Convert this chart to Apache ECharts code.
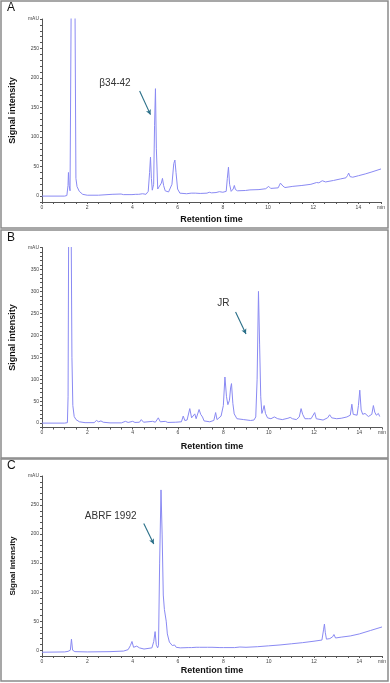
<!DOCTYPE html>
<html>
<head>
<meta charset="utf-8">
<script src="https://cdn.jsdelivr.net/npm/echarts@6/dist/echarts.min.js"></script>
<style>
  html, body { margin: 0; padding: 0; background: #fff; }
  #chart { width: 390px; height: 683px; }
</style>
</head>
<body>
<div id="chart"></div>
<script>
// 色谱数据 A（保留时间 min / 信号 mAU）
const timeA = [0, 1.0, 1.1, 1.15, 1.17, 1.2, 1.24, 1.26, 1.29, 1.33, 1.42, 1.46, 1.5, 1.55, 1.65, 1.8, 2.0, 2.5, 3.1, 3.5, 3.6, 3.85, 3.92, 3.98, 4.15, 4.21, 4.28, 4.45, 4.5, 4.6, 4.7, 4.76, 4.8, 4.84, 4.88, 4.94, 4.98, 5.02, 5.06, 5.12, 5.2, 5.28, 5.33, 5.38, 5.45, 5.6, 5.75, 5.83, 5.88, 5.93, 6.0, 6.1, 6.4, 6.6, 6.68, 6.78, 7.0, 7.3, 7.4, 7.5, 7.7, 7.85, 8.0, 8.15, 8.2, 8.25, 8.3, 8.37, 8.46, 8.51, 8.56, 8.65, 9.0, 9.2, 9.6, 9.9, 10.03, 10.12, 10.45, 10.55, 10.6, 10.66, 10.75, 11.1, 11.5, 11.9, 12.15, 12.25, 12.4, 12.55, 12.9, 13.2, 13.45, 13.52, 13.57, 13.63, 13.75, 14.0, 14.3, 14.6, 15.0]
const signalA = [0, 0, 1, 18, 40, 18, 9, 10, 320, 700, 700, 320, 30, 16, 8, 3, 1.5, 1.5, 3, 3.5, 2.5, 2.5, 5, 2.5, 3, 6, 3, 4, 5.5, 3, 8, 40, 66, 30, 10, 20, 120, 182, 80, 12, 10, 22, 30, 18, 9, 7, 20, 55, 61, 40, 12, 5, 4, 5, 8, 5, 4.5, 5, 6.5, 5.5, 6, 7.5, 6.5, 8, 30, 49, 20, 8, 12, 18, 11, 9, 9.5, 10.5, 11, 12.5, 16.5, 13, 14, 22, 25, 17, 14.5, 16.5, 18, 20, 23, 22.5, 26, 24, 26.5, 29, 31, 35, 39, 33, 32, 34.5, 37.5, 41, 46]

// 色谱数据 B
const timeB = [0, 1.0, 1.12, 1.15, 1.18, 1.28, 1.32, 1.36, 1.42, 1.5, 1.65, 1.9, 2.3, 2.4, 2.44, 2.5, 2.6, 2.7, 3.0, 3.5, 3.68, 3.8, 4.0, 4.1, 4.3, 4.38, 4.48, 4.88, 5.0, 5.13, 5.22, 5.44, 5.55, 5.9, 6.15, 6.23, 6.3, 6.4, 6.52, 6.6, 6.66, 6.74, 6.8, 6.86, 6.93, 7.0, 7.08, 7.15, 7.4, 7.58, 7.66, 7.72, 7.8, 7.9, 8.0, 8.07, 8.14, 8.2, 8.27, 8.32, 8.36, 8.42, 8.48, 8.6, 8.9, 9.2, 9.35, 9.43, 9.49, 9.55, 9.6, 9.65, 9.7, 9.75, 9.8, 9.86, 9.95, 10.1, 10.25, 10.4, 10.6, 10.85, 10.95, 11.05, 11.12, 11.22, 11.35, 11.43, 11.5, 11.6, 11.75, 11.8, 11.87, 11.95, 12.03, 12.1, 12.4, 12.6, 12.69, 12.78, 12.85, 13.0, 13.2, 13.45, 13.6, 13.67, 13.73, 13.8, 13.9, 13.96, 14.02, 14.08, 14.15, 14.25, 14.4, 14.55, 14.62, 14.68, 14.75, 14.84, 14.9]
const signalB = [0, 0, 1, 60, 500, 500, 150, 40, 15, 8, 3, 1, 1, 6, 10, 3, 5, 2, 0.5, 0.5, 4, 1.5, 4, 1.5, 2, 8, 2, 4, 2, 12, 3, 4, 1.5, 2, 3, 16, 6, 7, 33, 12, 14, 21, 10, 14, 31, 20, 14, 5, 3, 6, 24, 8, 8, 16, 40, 105, 60, 42, 52, 80, 90, 45, 21, 10, 8, 6, 7, 14, 100, 300, 180, 60, 22, 30, 40, 22, 12, 10, 14, 10, 8, 11, 13, 10, 13, 8, 14, 33, 20, 10, 10, 14, 10, 11, 24, 10, 7, 12, 19, 12, 14, 10, 11, 14, 18, 43, 20, 17, 18, 40, 75, 30, 20, 22, 15, 20, 40, 25, 18, 22, 15]

// 色谱数据 C
const timeC = [0, 1.0, 1.15, 1.25, 1.3, 1.35, 1.45, 2.0, 3.0, 3.6, 3.8, 3.9, 3.97, 4.04, 4.1, 4.18, 4.3, 4.5, 4.85, 4.93, 4.99, 5.04, 5.1, 5.14, 5.19, 5.25, 5.3, 5.35, 5.4, 5.44, 5.48, 5.53, 5.62, 5.75, 5.85, 5.92, 6.1, 6.45, 6.5, 6.6, 6.8, 6.86, 6.95, 7.3, 7.37, 7.5, 7.85, 7.92, 8.0, 8.5, 8.73, 9.0, 9.5, 10.0, 10.5, 11.0, 11.5, 12.0, 12.35, 12.42, 12.46, 12.5, 12.55, 12.7, 12.82, 12.88, 12.95, 13.2, 13.6, 14.0, 14.5, 15.0]
const signalC = [-3.5, -3, -2, 0, 19, 0, -2.5, -3, -2.5, -1.5, 1, 8, 15, 5, 4, 7, 4, 2, 4, 15, 32, 10, 4, 8, 150, 276, 200, 95, 70, 72, 50, 28, 14, 8, 9, 5, 4, 4.5, 6.5, 4.5, 5, 7.5, 5, 5, 6.5, 5, 4.5, 7, 4.5, 4.5, 5.5, 5, 6, 7.5, 9, 11, 13, 15.5, 17.5, 35, 45, 30, 19, 20, 23, 27, 21, 22.5, 24.5, 28, 34, 40]

// 标注（文字位置、箭头起止点，数据坐标）
const labelA = { text: 'β34-42', at: [3.23, 191], from: [4.32, 178], to: [4.8, 138] }
const labelB = { text: 'JR', at: [8.0, 272], from: [8.54, 253], to: [9.0, 203] }
const labelC = { text: 'ABRF 1992', at: [3.03, 230], from: [4.49, 218], to: [4.93, 183] }

const lineColor = '#8a8af3'
const axisColor = '#555'

const pair = (xs, ys) => xs.map((x, i) => [x, ys[i]])

const makeXAxis = (idx, nameGap) => ({
  type: 'value',
  gridIndex: idx,
  min: 0,
  max: 15,
  interval: 0.5,
  name: 'Retention time',
  nameLocation: 'middle',
  nameGap: nameGap,
  nameTextStyle: { fontFamily: 'Liberation Sans', fontWeight: 'bold', fontSize: 9, color: '#111' },
  axisLine: { onZero: false, lineStyle: { color: axisColor, width: 1 } },
  axisTick: { length: 2, lineStyle: { color: axisColor } },
  axisLabel: {
    interval: 0,
    margin: 3,
    fontSize: 5,
    color: '#444',
    fontFamily: 'Liberation Sans',
    formatter: (v) => {
      if (v === 15) return 'min'
      return v % 2 === 0 && v < 15 ? String(v) : ''
    },
  },
  splitLine: { show: false },
})

const makeYAxis = (idx, min, max, nameGap, nameSize) => ({
  type: 'value',
  gridIndex: idx,
  min: min,
  max: max,
  interval: 10,
  name: 'Signal intensity',
  nameLocation: 'middle',
  nameGap: nameGap,
  nameTextStyle: { fontFamily: 'Liberation Sans', fontWeight: 'bold', fontSize: nameSize, color: '#111' },
  axisLine: { show: true, lineStyle: { color: axisColor, width: 1 } },
  axisTick: { show: true, length: 2, lineStyle: { color: axisColor } },
  axisLabel: {
    margin: 3,
    fontSize: 5,
    color: '#444',
    fontFamily: 'Liberation Sans',
    formatter: (v) => {
      if (v === max) return 'mAU'
      return v >= 0 && v % 50 === 0 ? String(v) : ''
    },
  },
  splitLine: { show: false },
})

const makeSeries = (idx, xs, ys, note) => ({
  type: 'line',
  xAxisIndex: idx,
  yAxisIndex: idx,
  data: pair(xs, ys),
  showSymbol: false,
  symbol: 'none',
  clip: true,
  silent: true,
  lineStyle: { color: lineColor, width: 1 },
  markLine: {
    silent: true,
    symbol: ['none', 'arrow'],
    symbolSize: [4, 5],
    label: { show: false },
    lineStyle: { color: '#2a6f88', width: 1.1, type: 'solid' },
    data: [[{ coord: note.from }, { coord: note.to }]],
  },
  markPoint: {
    silent: true,
    symbol: 'circle',
    symbolSize: 0,
    label: {
      show: true,
      position: 'inside',
      color: '#333',
      fontSize: 10,
      fontFamily: 'Liberation Sans',
      formatter: (p) => p.name,
    },
    data: [{ name: note.text, coord: note.at }],
  },
})

const panelText = (t, x, y) => ({
  type: 'text',
  x: x,
  y: y,
  style: { text: t, fontSize: 12, fill: '#111', fontFamily: 'Liberation Sans' },
})

const panelBox = (y, h) => ({
  type: 'rect',
  shape: { x: 1, y: y, width: 387, height: h },
  style: { fill: 'none', stroke: '#8a8a8a', lineWidth: 1.5 },
})

const chart = echarts.init(document.getElementById('chart'))
chart.setOption({
  animation: false,
  backgroundColor: '#fff',
  grid: [
    { left: 37, top: 19, width: 344, height: 183 },
    { left: 40, top: 247.5, width: 342, height: 180 },
    { left: 42, top: 476, width: 340, height: 180 },
  ],
  xAxis: [makeXAxis(0, 13), makeXAxis(1, 15), makeXAxis(2, 10)],
  yAxis: [makeYAxis(0, -10, 300, 18, 9), makeYAxis(1, -10, 400, 20, 9), makeYAxis(2, -10, 300, 19, 8)],
  series: [
    makeSeries(0, timeA, signalA, labelA),
    makeSeries(1, timeB, signalB, labelB),
    makeSeries(2, timeC, signalC, labelC),
  ],
  graphic: [
    panelBox(1, 227),
    panelBox(230, 228),
    panelBox(459, 222),
    panelText('A', 7, 2),
    panelText('B', 7, 232),
    panelText('C', 7, 460),
  ],
})
</script>
</body>
</html>
